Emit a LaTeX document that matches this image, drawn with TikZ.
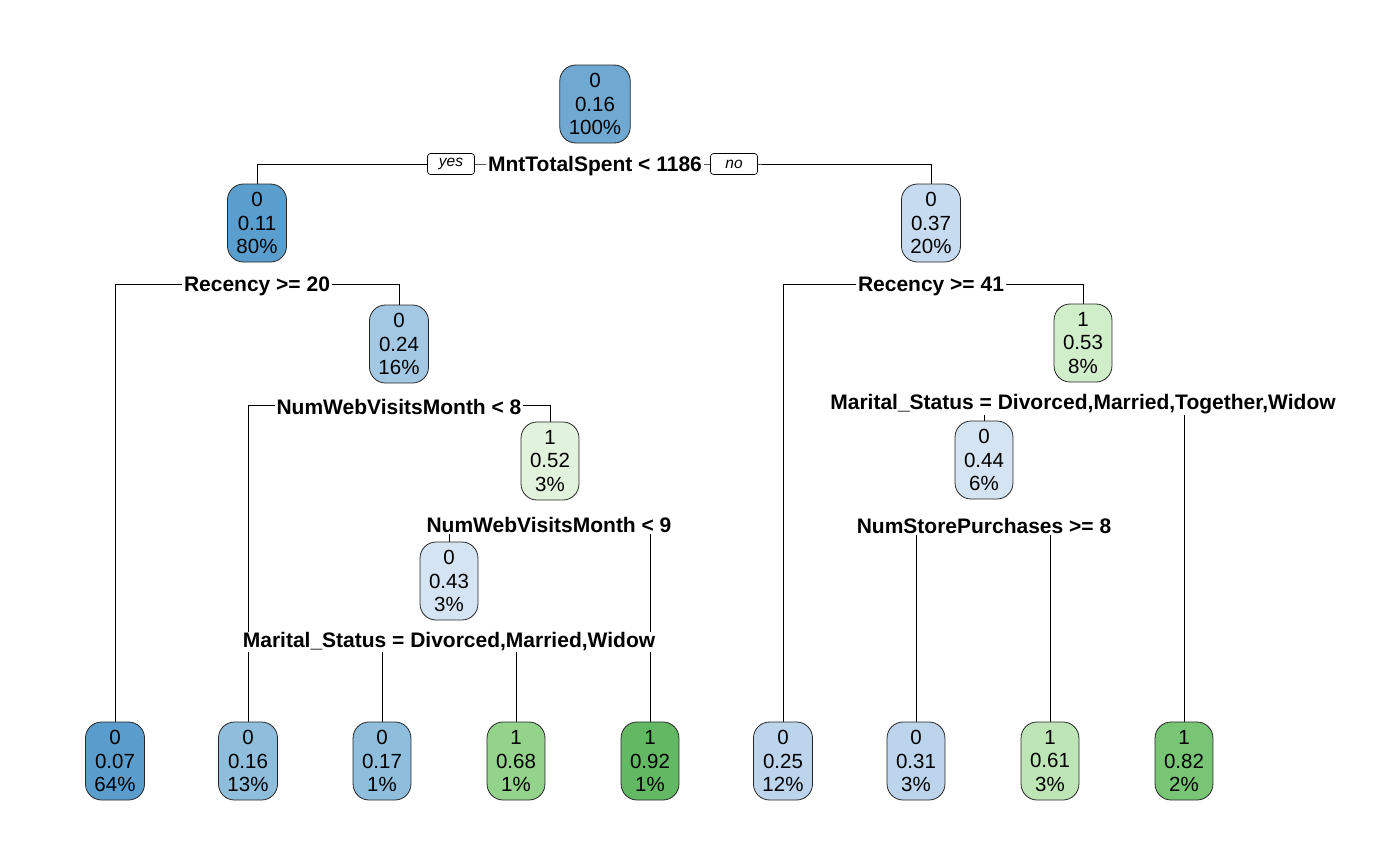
\documentclass[tikz,border=0pt]{standalone}
\usepackage{fontspec}
\setmainfont{Liberation Sans}
\usetikzlibrary{backgrounds}

% node fills, blue for class 0 and green for class 1
\definecolor{bA}{HTML}{6FA9D2}
\definecolor{bB}{HTML}{5A9ECD}
\definecolor{bC}{HTML}{5A9CCB}
\definecolor{bD}{HTML}{A3C8E3}
\definecolor{bE}{HTML}{8EBEDC}
\definecolor{bF}{HTML}{C6DBEF}
\definecolor{bG}{HTML}{D4E4F3}
\definecolor{bH}{HTML}{BCD4EC}
\definecolor{gA}{HTML}{E1F3DC}
\definecolor{gB}{HTML}{D0EEC9}
\definecolor{gC}{HTML}{BEE5B5}
\definecolor{gD}{HTML}{93D38B}
\definecolor{gE}{HTML}{78C575}
\definecolor{gF}{HTML}{62B863}

\begin{document}
\begin{tikzpicture}[x=1pt,y=-1pt,
  box/.style={draw=black!85, line width=0.8pt, rounded corners=16pt, align=center,
    inner xsep=9pt, inner ysep=0pt, minimum height=78pt,
    font=\fontsize{20.5}{23.5}\selectfont},
  split/.style={fill=white, inner xsep=2pt, inner ysep=1pt,
    font=\fontsize{21}{24}\selectfont\bfseries},
  tag/.style={draw, line width=0.7pt, rounded corners=3pt, fill=white,
    font=\fontsize{15.5}{18}\selectfont\itshape, minimum width=47pt,
    minimum height=21pt, inner sep=0pt},
  edge/.style={line width=0.8pt}]

\useasboundingbox (0,0) rectangle (1400,865);

% tree nodes
\node[box, fill=bA] (r)    at (595,104)   {0\\0.16\\100\%};
\node[box, fill=bB] (a)    at (257,223)   {0\\0.11\\80\%};
\node[box, fill=bF] (b)    at (931,223)   {0\\0.37\\20\%};
\node[box, fill=bD] (a2)   at (399,344)   {0\\0.24\\16\%};
\node[box, fill=gA] (a22)  at (550,461)   {1\\0.52\\3\%};
\node[box, fill=bG] (a221) at (449,581)   {0\\0.43\\3\%};
\node[box, fill=gB] (b2)   at (1083,343)  {1\\0.53\\8\%};
\node[box, fill=bG] (b21)  at (984,460)   {0\\0.44\\6\%};

% leaves
\node[box, fill=bC] (l1) at (115,761)  {0\\0.07\\64\%};
\node[box, fill=bE] (l2) at (248,761)  {0\\0.16\\13\%};
\node[box, fill=bE] (l3) at (382,761)  {0\\0.17\\1\%};
\node[box, fill=gD] (l4) at (516,761)  {1\\0.68\\1\%};
\node[box, fill=gF] (l5) at (650,761)  {1\\0.92\\1\%};
\node[box, fill=bH] (l6) at (783,761)  {0\\0.25\\12\%};
\node[box, fill=bH] (l7) at (916,761)  {0\\0.31\\3\%};
\node[box, fill=gC] (l8) at (1050,761) {1\\0.61\\3\%};
\node[box, fill=gE] (l9) at (1184,761) {1\\0.82\\2\%};

% split labels
\node[split] (s1) at (595,166)  {MntTotalSpent < 1186};
\node[split] (s2) at (257,286)  {Recency >= 20};
\node[split] (s3) at (931,286)  {Recency >= 41};
\node[split] (s4) at (399,407)  {NumWebVisitsMonth < 8};
\node[split] (s5) at (1083,404) {Marital\_Status = Divorced,Married,Together,Widow};
\node[split] (s6) at (549,525)  {NumWebVisitsMonth < 9};
\node[split] (s7) at (984,526)  {NumStorePurchases >= 8};
\node[split] (s8) at (449,642)  {Marital\_Status = Divorced,Married,Widow};

% branches, drawn under the labels
\begin{pgfonlayer}{background}
\draw[edge] (a.north)    |- (595,164) -| (b.north);
\draw[edge] (l1.north)   |- (257,284) -| (a2.north);
\draw[edge] (l6.north)   |- (931,284) -| (b2.north);
\draw[edge] (l2.north)   |- (399,405) -| (a22.north);
\draw[edge] (b21.north)  |- (1083,402) -| (l9.north);
\draw[edge] (a221.north) |- (549,523) -| (l5.north);
\draw[edge] (l7.north)   |- (984,524) -| (l8.north);
\draw[edge] (l3.north)   |- (449,640) -| (l4.north);
\end{pgfonlayer}

% branch direction tags
\node[tag] (yes) at (451,164) {yes};
\node[tag] (no)  at (734,164) {no};
\end{tikzpicture}
\end{document}
